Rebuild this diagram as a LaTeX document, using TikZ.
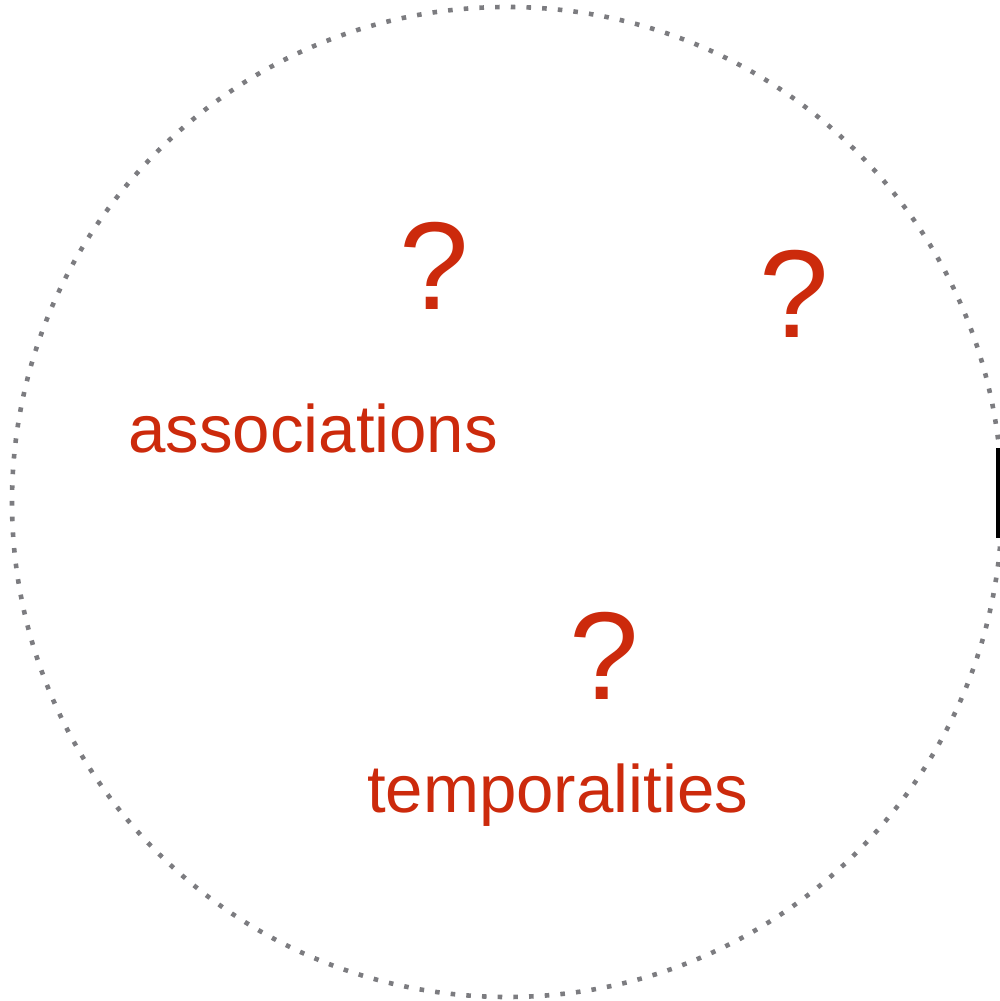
\documentclass[tikz,border=0pt]{standalone}
\usepackage{fontspec}
\setmainfont{Liberation Sans}
\definecolor{qred}{HTML}{CC2A0C}
\definecolor{dotgray}{HTML}{7C7C80}
\tikzset{
  word/.style={text=qred, inner sep=0pt, font=\fontsize{67.2pt}{70pt}\selectfont, anchor=base west},
  qmark/.style={text=qred, inner sep=0pt, font=\fontsize{125pt}{130pt}\selectfont, anchor=base},
  ring/.style={draw=dotgray, line width=4.6pt, dash pattern=on 4.6pt off 11.1pt}
}
\begin{document}
\begin{tikzpicture}[x=1pt,y=1pt]
\useasboundingbox (0,0) rectangle (1000,1001);
\clip (0,0) rectangle (1000,1001);
\draw[ring] (507,499) circle[radius=495];
\fill[black] (996,463) rectangle (1010,553);
\node[word] (assoc) at (128,548) {associations};
\node[word] (temp) at (367,188) {temporalities};
\node[qmark] (q1) at (434,691) {?};
\node[qmark] (q2) at (794,663) {?};
\node[qmark] (q3) at (604,301) {?};
\end{tikzpicture}
\end{document}
